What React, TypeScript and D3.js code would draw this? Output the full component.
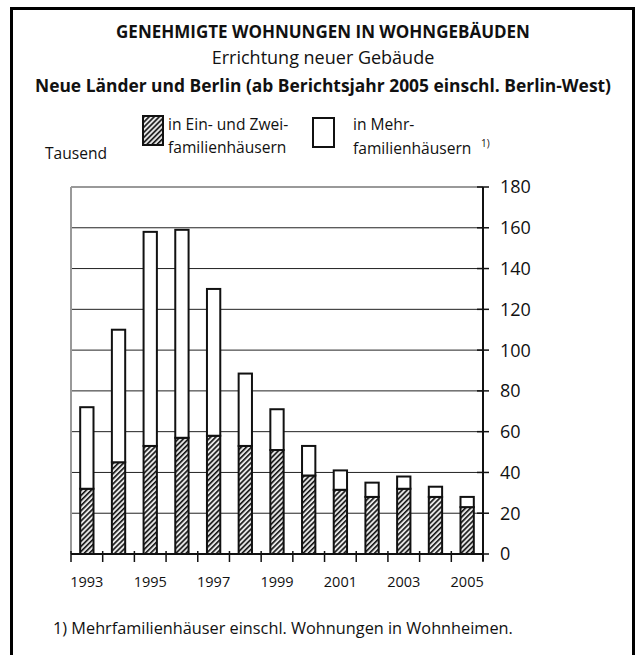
import React from 'react';
import * as d3 from 'd3';

const YEARS = ['1993', '1994', '1995', '1996', '1997', '1998', '1999', '2000', '2001', '2002', '2003', '2004', '2005'];
// thousands of approved dwellings
const EIN_ZWEI = [32, 45, 53, 57, 58, 53, 51, 38.5, 31.5, 28, 32, 28, 23];
const MEHR = [40, 65, 105, 102, 72, 35.5, 20, 14.5, 9.5, 7, 6, 5, 5];
const YEAR_LABELS = ['1993', '1995', '1997', '1999', '2001', '2003', '2005'];
const Y_TICKS = [0, 20, 40, 60, 80, 100, 120, 140, 160, 180];

const FONT = "'Open Sans', 'Noto Sans', sans-serif";

export default function App() {
  const left = 71, right = 483, top = 187, bottom = 554;

  const x = d3.scaleBand<string>()
    .domain(YEARS)
    .range([left, right])
    .paddingInner(0.58)
    .paddingOuter(0.29);
  const y = d3.scaleLinear().domain([0, 180]).range([bottom, top]);

  const gap = (x.step() - x.bandwidth()) / 2;
  const boundaries = YEARS.map(yr => (x(yr) as number) - gap).concat([right]);

  const stacked = d3.stack<number>()
    .keys(['ein', 'mehr'])
    .value((i, k) => (k === 'ein' ? EIN_ZWEI[i] : MEHR[i]))(d3.range(YEARS.length));

  return (
    <svg width={637} height={655} style={{ position: 'absolute', left: 0, top: 0, background: '#fff' }}
      fontFamily={FONT}>
      <defs>
        <pattern id="hatch" width={3.6} height={3.6} patternUnits="userSpaceOnUse" patternTransform="rotate(45)">
          <rect width={3.6} height={3.6} fill="#e6e6e6" />
          <line x1={0.8} y1={0} x2={0.8} y2={3.6} stroke="#111" strokeWidth={1.6} />
        </pattern>
      </defs>

      {/* frame */}
      <rect x={11.5} y={8.5} width={622} height={660} fill="none" stroke="#000" strokeWidth={3} />

      {/* titles */}
      <text x={323} y={38} textAnchor="middle" fontSize={17} fontWeight={700} fill="#111">
        GENEHMIGTE WOHNUNGEN IN WOHNGEBÄUDEN
      </text>
      <text x={323} y={64} textAnchor="middle" fontSize={18} fill="#111">Errichtung neuer Gebäude</text>
      <text x={323} y={92} textAnchor="middle" fontSize={17.4} fontWeight={700} fill="#111">
        Neue Länder und Berlin (ab Berichtsjahr 2005 einschl. Berlin-West)
      </text>

      {/* legend */}
      <rect x={143} y={116} width={20} height={29} fill="url(#hatch)" stroke="#111" strokeWidth={2} />
      <text x={168} y={130} fontSize={15.6} fill="#111">in Ein- und Zwei-</text>
      <text x={168} y={153} fontSize={15.6} fill="#111">familienhäusern</text>
      <rect x={313} y={118} width={21} height={29} fill="#fff" stroke="#111" strokeWidth={2} />
      <text x={353} y={130} fontSize={15.6} fill="#111">in Mehr-</text>
      <text x={353} y={154} fontSize={15.6} fill="#111">familienhäusern</text>
      <text x={481} y={147} fontSize={10} fill="#111">1)</text>
      <text x={45} y={159} fontSize={15.6} fill="#111">Tausend</text>

      {/* gridlines */}
      {Y_TICKS.filter(t => t > 0 && t < 180).map(t => (
        <line key={t} x1={left} x2={right} y1={y(t)} y2={y(t)} stroke="#222" strokeWidth={1} />
      ))}
      <line x1={left} x2={left} y1={top} y2={bottom} stroke="#999" strokeWidth={2} />
      <line x1={left} x2={right} y1={top} y2={top} stroke="#999" strokeWidth={2} />

      {/* bars */}
      {stacked.map(layer => layer.map((d, i) => (
        <rect key={layer.key + i}
          x={x(YEARS[i])} width={x.bandwidth()}
          y={y(d[1])} height={y(d[0]) - y(d[1])}
          fill={layer.key === 'ein' ? 'url(#hatch)' : '#fff'}
          stroke="#111" strokeWidth={2} />
      )))}

      {/* y axis right */}
      <line x1={right} x2={right} y1={top} y2={bottom + 7} stroke="#111" strokeWidth={2} />
      {Y_TICKS.map(t => (
        <g key={t}>
          <line x1={right - 6} x2={right + 6} y1={y(t)} y2={y(t)} stroke="#111" strokeWidth={1.5} />
          <text x={500} y={y(t)} dy="0.36em" fontSize={18} fill="#111">{t}</text>
        </g>
      ))}

      {/* x axis */}
      <line x1={left} x2={right} y1={bottom} y2={bottom} stroke="#111" strokeWidth={2} />
      {boundaries.map((b, i) => (
        <line key={i} x1={b} x2={b} y1={bottom - 3} y2={bottom + 8} stroke="#111" strokeWidth={1.5} />
      ))}
      {YEAR_LABELS.map(yr => (
        <text key={yr} x={(x(yr) as number) + x.bandwidth() / 2} y={587} textAnchor="middle" fontSize={14.5} fill="#111">
          {yr}
        </text>
      ))}

      {/* footnote */}
      <text x={53} y={634} fontSize={16.3} fill="#111">1)  Mehrfamilienhäuser einschl.  Wohnungen in Wohnheimen.</text>
    </svg>
  );
}
